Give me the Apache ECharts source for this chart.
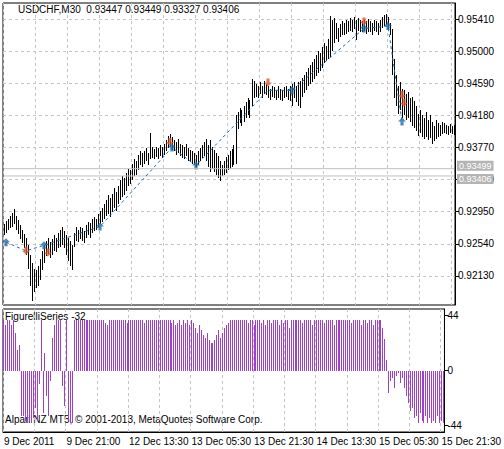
<!DOCTYPE html>
<html>
<head>
<meta charset="utf-8">
<script src="https://cdn.jsdelivr.net/npm/echarts@6/dist/echarts.min.js"></script>
<style>html,body{margin:0;padding:0;background:#fff}#c{width:504px;height:449px}</style>
</head>
<body>
<div id="c"></div>
<script>
// price bars, in pips (0.0001)
const highs = [
 9279,9283,9286,9290,9293,9298,9290,9284,9278,9272,
 9266,9262,9252,9240,9230,9222,9220,9225,9235,9245,
 9252,9258,9262,9256,9260,9265,9262,9268,9272,9275,
 9270,9265,9262,9258,9252,9268,9275,9272,9276,9274,
 9270,9278,9282,9280,9285,9288,9286,9292,9296,9300,
 9305,9310,9316,9312,9318,9325,9320,9328,9335,9340,
 9338,9345,9350,9348,9356,9362,9360,9368,9372,9370,
 9372,9376,9370,9395,9378,9375,9378,9376,9380,9378,
 9382,9386,9392,9394,9390,9386,9384,9388,9382,9380,
 9378,9382,9376,9374,9372,9370,9368,9372,9376,9380,
 9384,9388,9380,9386,9378,9374,9370,9366,9360,9355,
 9360,9365,9368,9372,9375,9380,9418,9422,9428,9425,
 9430,9435,9440,9437,9465,9462,9458,9455,9460,9456,
 9462,9458,9455,9452,9456,9454,9450,9455,9452,9450,
 9454,9456,9452,9455,9458,9460,9456,9460,9462,9466,
 9470,9474,9478,9482,9486,9490,9495,9500,9498,9505,
 9510,9506,9515,9545,9540,9542,9536,9530,9535,9538,
 9536,9540,9538,9542,9540,9544,9540,9542,9540,9538,
 9540,9538,9541,9539,9536,9540,9538,9536,9540,9544,
 9546,9548,9544,9536,9528,9490,9470,9455,9460,9452,
 9450,9445,9448,9440,9442,9436,9430,9420,9425,9418,
 9415,9422,9412,9418,9410,9405,9412,9408,9406,9410,
 9408,9406,9405,9407,9405,9406
];
const lows = [
 9265,9268,9271,9274,9276,9279,9272,9266,9260,9255,
 9249,9240,9222,9200,9181,9192,9198,9200,9208,9220,
 9230,9238,9241,9236,9240,9245,9244,9248,9250,9252,
 9248,9240,9232,9225,9220,9250,9258,9256,9260,9258,
 9255,9262,9265,9262,9268,9270,9272,9276,9279,9282,
 9286,9290,9292,9288,9295,9300,9296,9305,9310,9314,
 9316,9322,9328,9330,9335,9340,9342,9348,9354,9352,
 9356,9360,9355,9362,9364,9362,9365,9362,9366,9364,
 9368,9372,9376,9378,9374,9372,9368,9370,9366,9364,
 9362,9366,9360,9358,9356,9354,9352,9355,9360,9364,
 9366,9360,9352,9346,9350,9346,9342,9338,9334,9340,
 9342,9344,9348,9350,9352,9354,9356,9400,9408,9405,
 9410,9415,9418,9414,9430,9440,9442,9440,9445,9440,
 9445,9444,9440,9438,9442,9440,9437,9440,9438,9436,
 9440,9442,9438,9436,9430,9440,9435,9430,9428,9442,
 9446,9450,9455,9458,9460,9464,9468,9472,9475,9478,
 9485,9488,9490,9492,9500,9510,9515,9512,9518,9520,
 9520,9522,9524,9526,9525,9528,9514,9526,9525,9524,
 9526,9522,9524,9525,9520,9526,9524,9520,9525,9530,
 9532,9534,9528,9520,9470,9440,9430,9420,9425,9415,
 9418,9412,9414,9410,9405,9402,9398,9392,9396,9390,
 9388,9390,9386,9389,9382,9385,9388,9390,9392,9394,
 9395,9394,9393,9395,9394,9393
];
// FigurelliSeries histogram
const figurelli = [
 40,36,40,40,36,40,30,16,20,-36,
 -36,-40,-42,-40,-42,-38,-30,-40,-11,40,
 -34,14,-20,-36,-8,26,36,40,40,40,
 -12,-28,40,-40,-42,-42,40,40,40,40,
 40,40,40,40,40,40,40,40,40,40,
 40,40,38,36,40,40,40,40,40,40,
 40,40,40,38,40,40,40,40,40,40,
 40,40,38,40,40,40,40,40,40,40,
 40,40,40,40,40,40,38,40,36,38,
 40,36,40,38,40,36,40,38,34,30,
 36,32,28,26,30,24,22,22,24,28,
 32,26,30,34,36,38,40,40,40,40,
 40,40,40,40,40,38,40,40,36,40,
 40,40,38,40,36,40,40,38,40,40,
 40,36,40,38,40,40,34,40,40,40,
 40,40,40,38,40,40,40,40,36,40,
 40,40,40,40,38,40,40,40,40,36,
 40,40,40,40,40,40,40,40,38,40,
 40,40,40,36,40,40,38,40,40,36,
 40,40,40,40,34,25,8,-18,-8,-6,
 -14,-4,-2,-10,-6,-14,-20,-26,-32,-30,
 -38,-36,-42,-34,-40,-42,-36,-42,-38,-42,
 -40,-42,-36,-42,-40,-42
];
// zigzag signals [bar index, price in pips]
const upArrows = [[1,9256],[20,9252],[48,9276],[84,9377],[96,9354],[144,9450],[180,9529],[192,9532],[199,9410]];
const downArrows = [[11,9245],[22,9243],[83,9384],[132,9460],[180,9538],[199,9444],[200,9434]];
const zigzag = [[1,9256],[11,9245],[20,9252],[48,9276],[84,9377],[96,9354],[132,9450],[144,9450],[180,9529],[192,9532],[199,9410]];
const priceTicks = [0.92130,0.92540,0.92950,0.93360,0.93770,0.94180,0.94590,0.95000,0.95410];
const timeLabels = ['9 Dec 2011','9 Dec 21:00','12 Dec 13:30','13 Dec 05:30','13 Dec 21:30','14 Dec 13:30','15 Dec 05:30','15 Dec 21:30'];
const bidAsk = [0.93499, 0.93406];

const cats = highs.map((_, i) => String(i));
const p = v => v / 10000;
const font = 'Liberation Sans';
const gridDash = {show: true, lineStyle: {color: '#c4c4c4', type: [3, 3], width: 1}};
const arrowPath = 'path://M5,0 L10,5 L7,5 L7,10 L3,10 L3,5 L0,5 Z';

// 1px wide column snapped to whole pixels
function column(api, i, a, b, color) {
  const p1 = api.coord([i, a]), p2 = api.coord([i, b]);
  const x = Math.floor(p1[0]);
  const y1 = Math.round(Math.min(p1[1], p2[1])), y2 = Math.round(Math.max(p1[1], p2[1]));
  return {type: 'rect', shape: {x: x, y: y1, width: 1, height: Math.max(1, y2 - y1)}, style: {fill: color}};
}

const chart = echarts.init(document.getElementById('c'), null, {renderer: 'svg'});
chart.setOption({
  animation: false,
  textStyle: {fontFamily: font},
  graphic: [
    {type: 'text', left: 18, top: 4, style: {text: 'USDCHF,M30  0.93447 0.93449 0.93327 0.93406', font: '10px ' + font, fill: '#000'}},
    {type: 'text', left: 5, top: 311, style: {text: 'FigurelliSeries -32', font: '10px ' + font, fill: '#000'}},
    {type: 'text', left: 5, top: 414, style: {text: 'Alpari NZ MT5, © 2001-2013, MetaQuotes Software Corp.', font: '10px ' + font, fill: '#000'}}
  ],
  grid: [
    {left: 3, top: 3, width: 452, height: 302, show: true, borderColor: '#000', borderWidth: 1},
    {left: 3, top: 309, width: 452, height: 123, show: true, borderColor: '#000', borderWidth: 1}
  ],
  xAxis: [
    {type: 'category', gridIndex: 0, data: cats, axisLine: {show: false}, axisTick: {show: false}, axisLabel: {show: false},
     splitLine: Object.assign({interval: i => i % 16 === 0}, gridDash)},
    {type: 'category', gridIndex: 1, data: cats, axisLine: {onZero: false, lineStyle: {color: '#000'}},
     axisTick: {interval: i => i % 32 === 0, length: 4, lineStyle: {color: '#000'}},
     axisLabel: {interval: i => i % 32 === 0, formatter: (v, i) => timeLabels[Math.round(i / 32)] || '', align: 'left',
       showMaxLabel: true, hideOverlap: false, color: '#000', fontSize: 10, margin: 4},
     splitLine: Object.assign({interval: i => i % 16 === 0}, gridDash)}
  ],
  yAxis: [
    {type: 'value', gridIndex: 0, position: 'right', min: 0.91758, max: 0.95615, scale: true,
     axisLine: {show: true, lineStyle: {color: '#000'}},
     axisTick: {show: true, customValues: priceTicks, length: 4, lineStyle: {color: '#000'}},
     axisLabel: {customValues: priceTicks, formatter: v => v.toFixed(5), color: '#000', fontSize: 10, margin: 3},
     splitLine: gridDash},
    {type: 'value', gridIndex: 1, position: 'right', min: -49, max: 49,
     axisLine: {show: true, lineStyle: {color: '#000'}},
     axisTick: {show: true, customValues: [44, 0, -44], length: 4, lineStyle: {color: '#000'}},
     axisLabel: {customValues: [44, 0, -44], color: '#000', fontSize: 10, margin: 3},
     splitLine: {show: false}}
  ],
  series: [
    // bid / ask lines with price tags
    ...bidAsk.map((v, k) => ({
      type: 'line', xAxisIndex: 0, yAxisIndex: 0, symbol: 'none', silent: true,
      data: [[0, v], [cats.length - 1, v]],
      lineStyle: {color: '#c0c0c0', width: 1},
      endLabel: {show: true, formatter: () => v.toFixed(5), color: '#fff', backgroundColor: '#b4b4b4',
        fontSize: 9, lineHeight: 10, padding: [0, 2], distance: 3, offset: [0, k === 0 ? -3 : 3]}
    })),
    {type: 'custom', xAxisIndex: 0, yAxisIndex: 0, data: highs.map((h, i) => [i, p(h), p(lows[i])]),
     renderItem: (params, api) => column(api, api.value(0), api.value(1), api.value(2), '#000')},
    {type: 'line', xAxisIndex: 0, yAxisIndex: 0, data: zigzag.map(d => [d[0], p(d[1])]), symbol: 'none',
     lineStyle: {color: '#1f6ea8', width: 1, type: [3, 3]}},
    {type: 'scatter', xAxisIndex: 0, yAxisIndex: 0, data: downArrows.map(d => [d[0], p(d[1])]),
     symbol: arrowPath, symbolSize: [8, 8], symbolRotate: 180, itemStyle: {color: '#e0552b'}},
    {type: 'scatter', xAxisIndex: 0, yAxisIndex: 0, data: upArrows.map(d => [d[0], p(d[1])]),
     symbol: arrowPath, symbolSize: [8, 8], itemStyle: {color: '#1f6ea8'}},
    {type: 'custom', xAxisIndex: 1, yAxisIndex: 1, data: figurelli.map((v, i) => [i, v]),
     renderItem: (params, api) => column(api, api.value(0), 0, api.value(1), '#a040c8')}
  ]
});
</script>
</body>
</html>
